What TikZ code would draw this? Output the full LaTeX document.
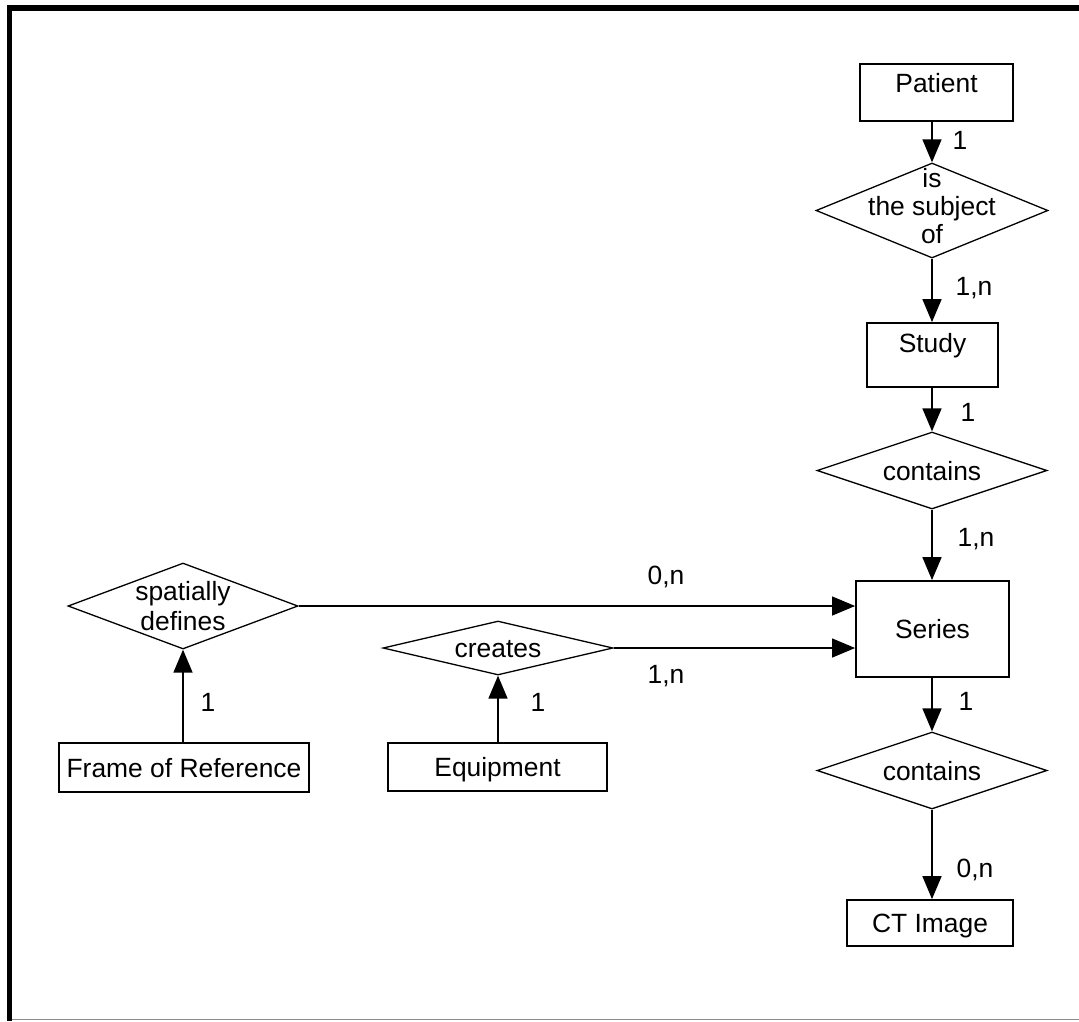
\documentclass[tikz,border=0pt]{standalone}
\usepackage{fontspec}
\setmainfont{Liberation Sans}
\usetikzlibrary{shapes.geometric,arrows.meta}
\begin{document}
\begin{tikzpicture}[x=1pt,y=-1pt,
  every node/.style={font=\fontsize{26.4pt}{28pt}\selectfont},
  entity/.style={draw, line width=1.8pt, inner sep=0pt, text height=19pt, text depth=0pt},
  rel/.style={diamond, draw, line width=1.3pt, inner sep=0pt},
  rtext/.style={align=center, inner sep=0pt},
  card/.style={inner sep=0pt, text height=19pt, text depth=0pt},
  conn/.style={line width=1.6pt, -{Triangle[length=23pt,width=19pt]}},
  hconn/.style={line width=1.2pt, -{Triangle[length=23pt,width=19pt]}}]
\useasboundingbox (0,0) rectangle (1079,1021);
% frame
\fill (7,5) rectangle (1079,11);
\fill (7,5) rectangle (12,1021);
\draw[line width=1.3pt, black!45] (12,1019.5) -- (1079,1019.5);

% entities
\node[entity, minimum width=153pt, minimum height=57pt, text depth=19pt] (pat) at (936.5,92.5) {Patient};
\node[entity, minimum width=131pt, minimum height=64pt, text depth=24pt] (stu) at (932.5,355) {Study};
\node[entity, minimum width=153pt, minimum height=96pt] (ser) at (932.5,629) {Series};
\node[entity, minimum width=166pt, minimum height=46pt] (ct) at (930,923) {CT Image};
\node[entity, minimum width=250pt, minimum height=49pt] (for) at (184,767.5) {Frame of Reference};
\node[entity, minimum width=219pt, minimum height=48pt] (eq) at (497.5,767) {Equipment};

% relationships
\node[rel, minimum width=232pt, minimum height=95pt,
  label={[rtext, yshift=4pt]center:{is\\the subject\\of}}] (subj) at (932,210.5) {};
\node[rel, minimum width=230pt, minimum height=77pt,
  label={[card]center:contains}] (con1) at (932,470.5) {};
\node[rel, minimum width=230pt, minimum height=86pt,
  label={[rtext, font=\fontsize{26.4pt}{30pt}\selectfont]center:{spatially\\defines}}] (spat) at (183,606) {};
\node[rel, minimum width=230pt, minimum height=54pt,
  label={[card]center:creates}] (cre) at (498,648) {};
\node[rel, minimum width=230pt, minimum height=77pt,
  label={[card]center:contains}] (con2) at (932,770.5) {};

% connectors
\draw[conn] (subj.north |- pat.south) -- (subj.north);
\draw[conn] (subj.south) -- (subj.south |- stu.north);
\draw[conn] (con1.north |- stu.south) -- (con1.north);
\draw[conn] (con1.south) -- (con1.south |- ser.north);
\draw[conn] (con2.north |- ser.south) -- (con2.north);
\draw[conn] (con2.south) -- (con2.south |- ct.north);
\draw[hconn] (spat.east) -- (spat.east -| ser.west);
\draw[hconn] (cre.east) -- (cre.east -| ser.west);
\draw[conn] (for.north -| spat.south) -- (spat.south);
\draw[conn] (eq.north -| cre.south) -- (cre.south);

% cardinalities
\node[card] (c1) at (960,140) {1};
\node[card] (c2) at (974,286) {1,n};
\node[card] (c3) at (968,412) {1};
\node[card] (c4) at (976,537) {1,n};
\node[card] (c5) at (666,575) {0,n};
\node[card] (c6) at (666,674) {1,n};
\node[card] (c7) at (966,701) {1};
\node[card] (c8) at (975,868) {0,n};
\node[card] (c9) at (208,702) {1};
\node[card] (c10) at (538,702) {1};
\end{tikzpicture}
\end{document}
